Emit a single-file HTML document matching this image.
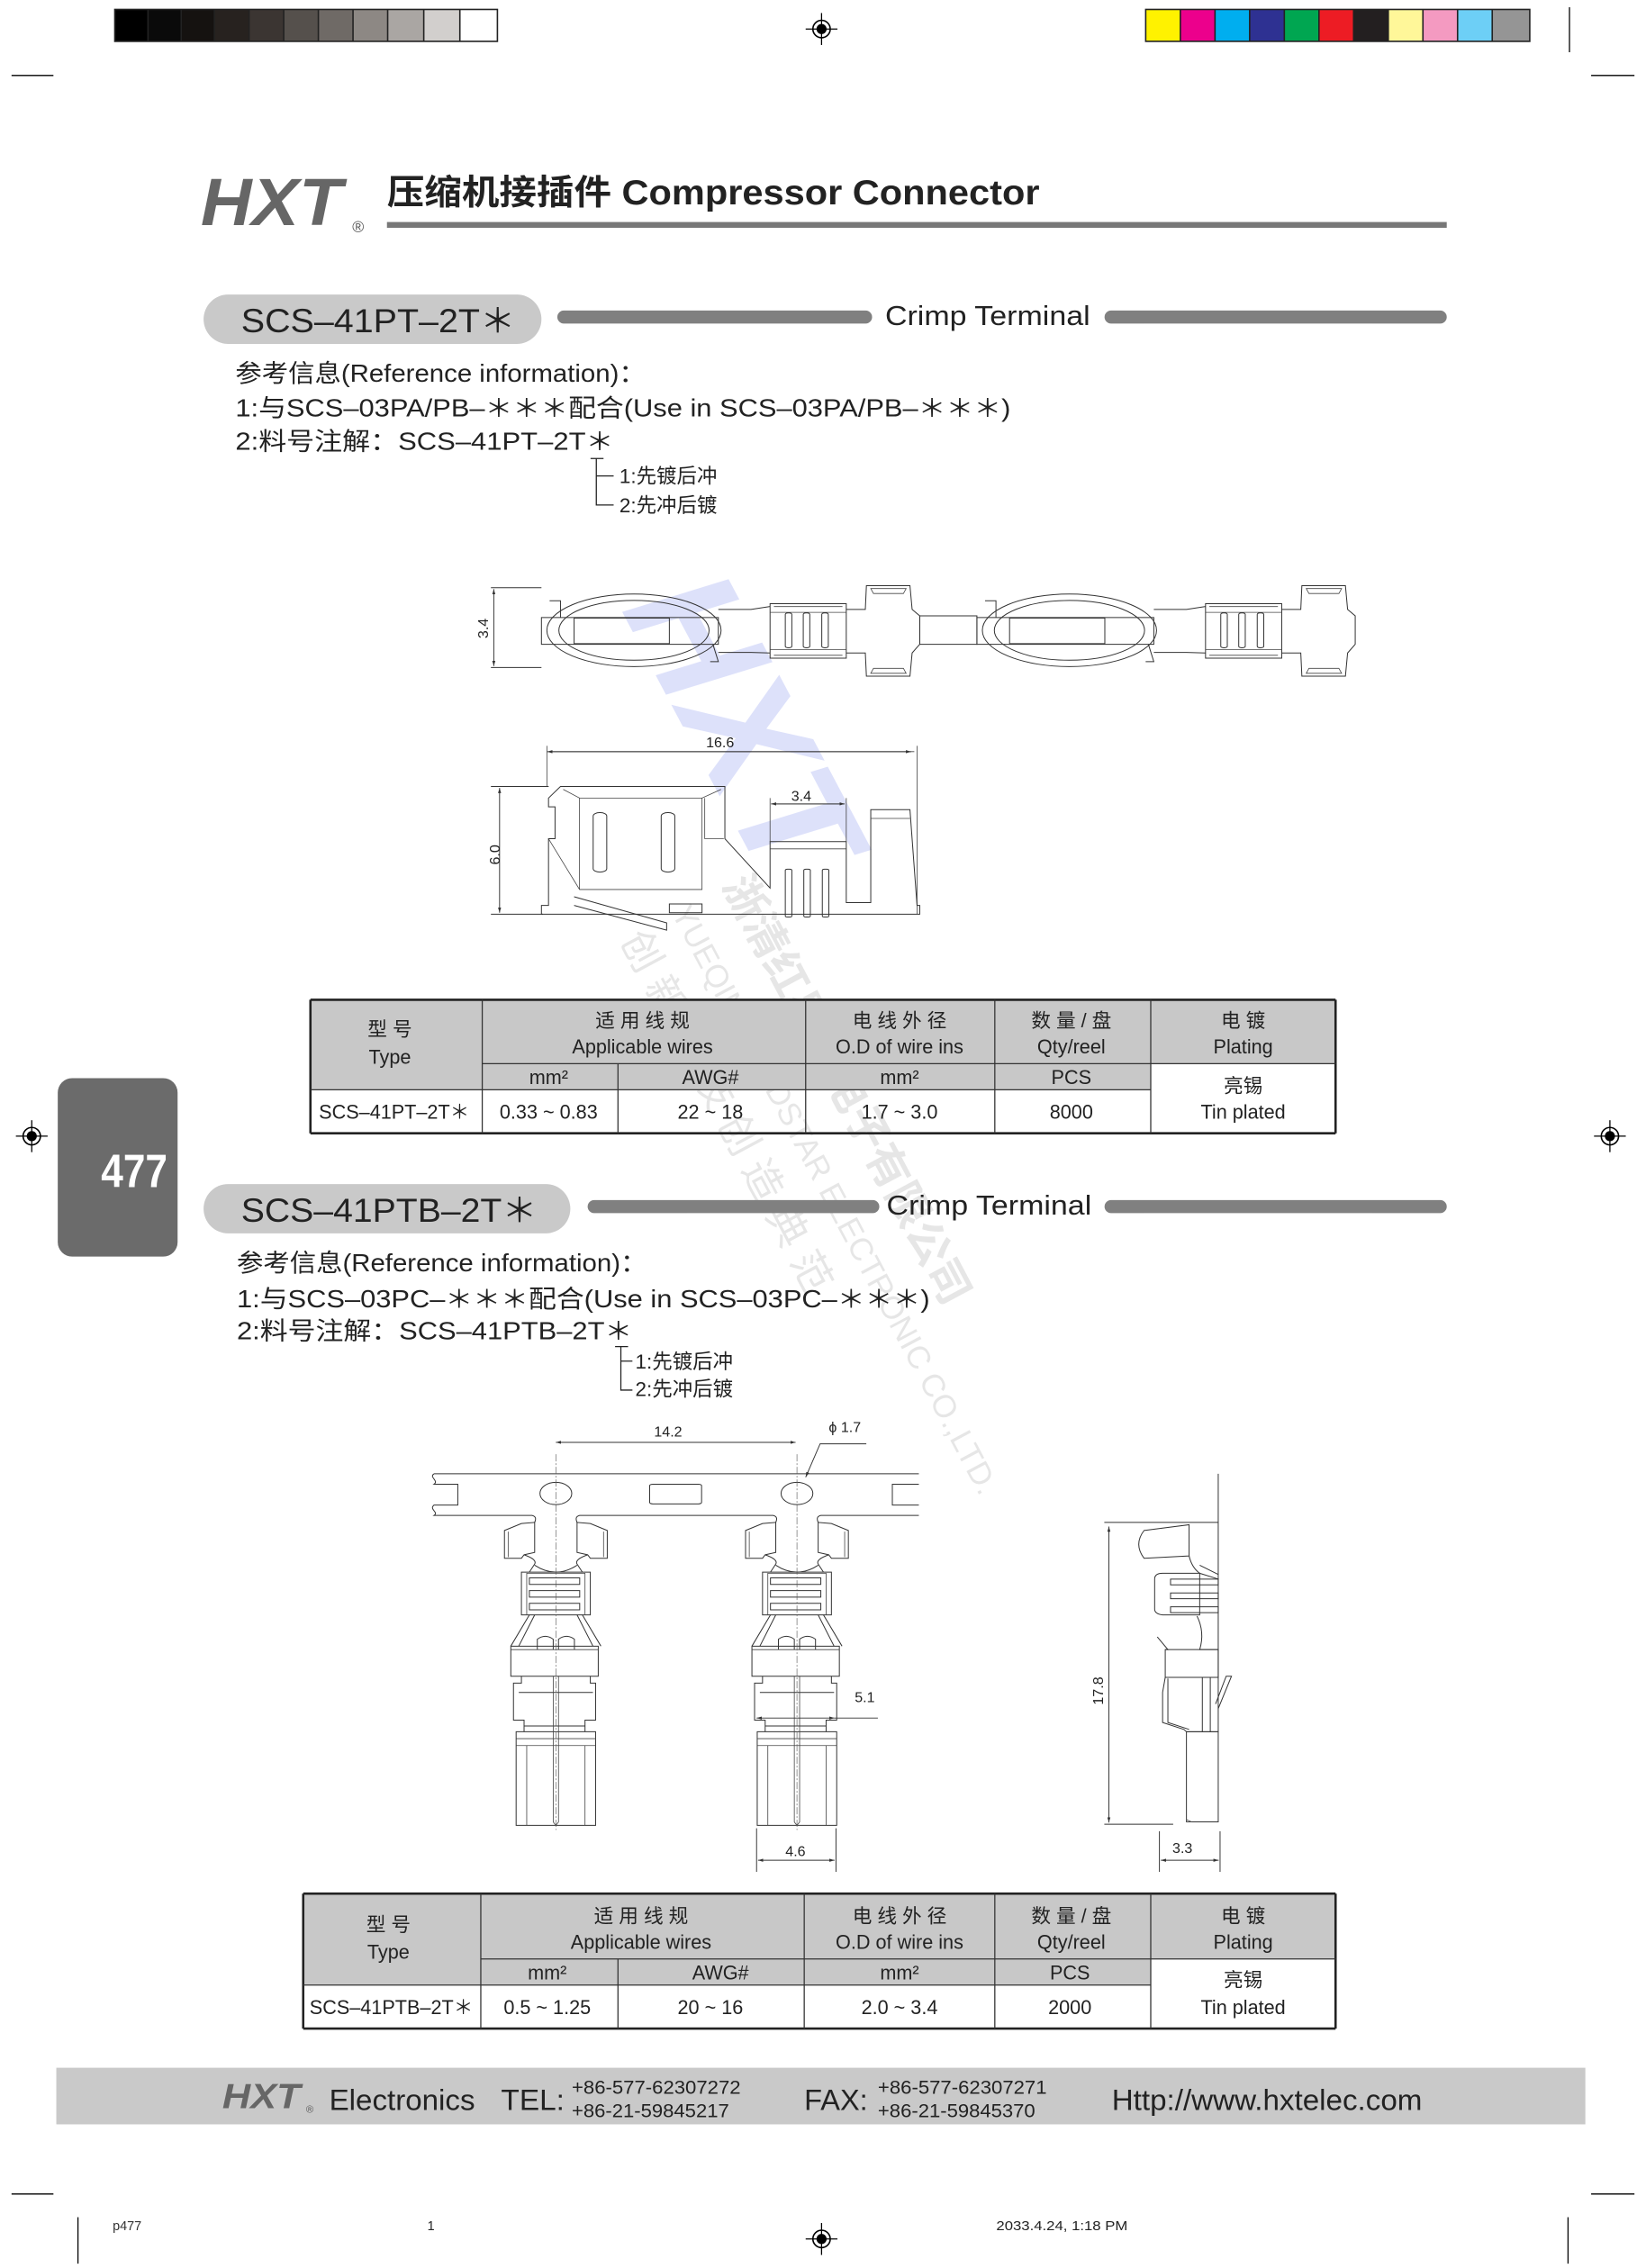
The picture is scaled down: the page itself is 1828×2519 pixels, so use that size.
<!DOCTYPE html>
<html><head><meta charset="utf-8"><style>
html,body{margin:0;padding:0;background:#fff;}
svg{display:block;}
text{font-family:"Liberation Sans","Noto Sans CJK SC",sans-serif;fill:#222;}
.d{fill:none;stroke:#333;stroke-width:1;vector-effect:non-scaling-stroke;}
.t{fill:none;stroke:#444;stroke-width:0.8;vector-effect:non-scaling-stroke;}
.dim{fill:none;stroke:#333;stroke-width:0.6;}
.cl{fill:none;stroke:#555;stroke-width:0.6;stroke-dasharray:8 2 2 2;vector-effect:non-scaling-stroke;}
</style></head><body>
<svg width="1828" height="2519" viewBox="0 0 1140 1563" preserveAspectRatio="none" xmlns="http://www.w3.org/2000/svg">
<defs>
<marker id="a" viewBox="0 0 10 10" refX="10" refY="5" markerWidth="6" markerHeight="6" orient="auto-start-reverse"><path d="M0,2 L10,5 L0,8 Z" fill="#333"/></marker>
<g id="reg"><circle r="6" fill="none" stroke="#000" stroke-width="1"/><circle r="3.5" fill="#000"/><line x1="-11" y1="0" x2="11" y2="0" stroke="#000" stroke-width="0.8"/><line x1="0" y1="-11" x2="0" y2="11" stroke="#000" stroke-width="0.8"/></g>
</defs>

<!-- top color bars -->
<rect x="79" y="6" width="266" height="23" fill="#222"/>
<g>
<rect x="80" y="7" width="22" height="21" fill="#000"/><rect x="103" y="7" width="22" height="21" fill="#0a0a0a"/><rect x="126" y="7" width="22" height="21" fill="#151210"/><rect x="149" y="7" width="23" height="21" fill="#27221f"/><rect x="173" y="7" width="23" height="21" fill="#3b3532"/><rect x="197" y="7" width="23" height="21" fill="#55504c"/><rect x="221" y="7" width="23" height="21" fill="#6f6a66"/><rect x="245" y="7" width="23" height="21" fill="#8d8884"/><rect x="269" y="7" width="24" height="21" fill="#aaa6a3"/><rect x="294" y="7" width="24" height="21" fill="#d2cfcd"/><rect x="319" y="7" width="25" height="21" fill="#fff"/>
</g>
<rect x="793" y="6" width="267" height="23" fill="#222"/>
<g>
<rect x="794" y="7" width="23" height="21" fill="#fff200"/><rect x="818" y="7" width="23" height="21" fill="#ec008c"/><rect x="842" y="7" width="23" height="21" fill="#00aeef"/><rect x="866" y="7" width="23" height="21" fill="#2e3192"/><rect x="890" y="7" width="23" height="21" fill="#00a651"/><rect x="914" y="7" width="23" height="21" fill="#ed1c24"/><rect x="938" y="7" width="23" height="21" fill="#231f20"/><rect x="962" y="7" width="23" height="21" fill="#fff799"/><rect x="986" y="7" width="23" height="21" fill="#f49ac1"/><rect x="1010" y="7" width="23" height="21" fill="#6dcff6"/><rect x="1034" y="7" width="25" height="21" fill="#959595"/>
</g>
<use href="#reg" x="569" y="20"/>
<use href="#reg" x="22" y="783"/>
<use href="#reg" x="1115" y="783"/>
<use href="#reg" x="569" y="1543"/>
<line x1="8" y1="52" x2="37" y2="52" stroke="#000" stroke-width="0.8"/>
<line x1="1102" y1="52" x2="1132" y2="52" stroke="#000" stroke-width="0.8"/>
<line x1="1087" y1="5" x2="1087" y2="36" stroke="#000" stroke-width="0.8"/>
<line x1="8" y1="1512" x2="37" y2="1512" stroke="#000" stroke-width="0.8"/>
<line x1="1102" y1="1512" x2="1132" y2="1512" stroke="#000" stroke-width="0.8"/>
<line x1="54" y1="1528" x2="54" y2="1560" stroke="#000" stroke-width="0.8"/>
<line x1="1086" y1="1528" x2="1086" y2="1560" stroke="#000" stroke-width="0.8"/>

<!-- header -->
<text x="139" y="155" font-size="46" font-weight="bold" font-style="italic" style="fill:#666" textLength="98" lengthAdjust="spacingAndGlyphs">HXT</text>
<text x="244" y="160" font-size="11" style="fill:#555">®</text>
<text x="268" y="141" font-size="24" font-weight="bold" textLength="452" lengthAdjust="spacingAndGlyphs">压缩机接插件 Compressor Connector</text>
<rect x="268" y="153" width="734" height="4" fill="#777"/>

<!-- section 1 -->
<rect x="141" y="203" width="234" height="34" rx="17" fill="#c9c9c9"/>
<text x="167" y="229" font-size="23" textLength="190" lengthAdjust="spacingAndGlyphs">SCS–41PT–2T＊</text>
<rect x="386" y="214" width="218" height="9" rx="4.5" fill="#808080"/>
<text x="613" y="224" font-size="19" textLength="142" lengthAdjust="spacingAndGlyphs">Crimp Terminal</text>
<rect x="765" y="214" width="237" height="9" rx="4.5" fill="#808080"/>
<text x="163" y="263" font-size="17" textLength="284" lengthAdjust="spacingAndGlyphs">参考信息(Reference information)：</text>
<text x="163" y="287" font-size="17" textLength="537" lengthAdjust="spacingAndGlyphs">1:与SCS–03PA/PB–＊＊＊配合(Use in SCS–03PA/PB–＊＊＊)</text>
<text x="163" y="310" font-size="17" textLength="262" lengthAdjust="spacingAndGlyphs">2:料号注解：SCS–41PT–2T＊</text>
<path d="M409,316 L418,316 M413,316 L413,348 L425,348 M413,328 L425,328" stroke="#222" fill="none" stroke-width="0.8"/>
<text x="429" y="333" font-size="14">1:先镀后冲</text>
<text x="429" y="353" font-size="14">2:先冲后镀</text>

<!-- watermark -->
<g opacity="0.18">
<text x="0" y="0" font-size="110" font-weight="bold" font-style="italic" style="fill:#4a5ee8" transform="translate(430,420) rotate(62)">HXT</text>
</g>
<g opacity="0.14" transform="translate(500,610) rotate(62)">
<text x="0" y="0" font-size="30" font-weight="bold" style="fill:#555">浙清红星亮电子有限公司</text>
<text x="0" y="40" font-size="22" style="fill:#555">YUEQING REDSTAR ELECTRONIC CO.,LTD.</text>
<text x="0" y="80" font-size="28" style="fill:#555">创 新 科 技 创 造 典 范</text>
</g>

<!-- drawing 1: strip -->
<g transform="matrix(0.377,0,0,0.2,361.8,390)">
<g id="u1">
<ellipse cx="205" cy="222" rx="160" ry="125" class="d"/>
<ellipse cx="205" cy="222" rx="138" ry="103" class="d"/>
<rect x="35" y="178" width="325" height="92" class="d" fill="#fff"/>
<rect x="95" y="180" width="175" height="88" class="d"/>
<path d="M50,120 L70,120 L70,178 M350,270 L360,330 L345,330" class="d"/>
<path d="M360,150 L420,150 L455,140 M360,298 L420,298 L455,300" class="d"/>
<rect x="455" y="130" width="140" height="188" class="d"/>
<path d="M455,160 L595,160 M455,288 L595,288 M462,140 L588,140 M462,308 L588,308" class="t"/>
<rect x="483" y="162" width="12" height="120" rx="5" class="d"/>
<rect x="516" y="162" width="12" height="120" rx="5" class="d"/>
<rect x="550" y="162" width="12" height="120" rx="5" class="d"/>
<path d="M595,150 L630,150 L632,68 L712,68 L716,150 L730,172 L730,270 L716,300 L712,380 L632,380 L630,300 L595,300" class="d"/>
<path d="M640,78 L705,78 L700,95 L645,95 Z M640,370 L705,370 L700,353 L645,353 Z" class="t"/>
</g>
<rect x="730" y="172" width="105" height="98" class="d"/>
<use href="#u1" x="800"/>
</g>
<line x1="340" y1="405" x2="375" y2="405" class="dim"/>
<line x1="340" y1="460" x2="375" y2="460" class="dim"/>
<line x1="342" y1="406" x2="342" y2="459" class="dim" marker-start="url(#a)" marker-end="url(#a)"/>
<text x="0" y="0" font-size="10" transform="translate(338,440) rotate(-90)">3.4</text>

<!-- drawing 1: side view -->
<g transform="matrix(0.377,0,0,0.2,361.8,390)">
<path d="M45,620 L45,760 M725,620 L725,1200" class="t"/>
<line x1="50" y1="640" x2="720" y2="640" class="t"/>
<path d="M48,830 L48,800 L70,760 L372,760 L372,940 L455,1110 L455,950 L595,950 L595,1160 L640,1160 L640,840 L712,840 L725,1170 L730,1170 L730,1200 L35,1200 L35,1170 L48,1170 L48,940 L60,940 L60,830 Z" class="d"/>
<path d="M75,770 L105,800 L330,800 L365,770 M105,800 L105,1115 L330,1115 L330,800 M335,800 L335,940 L370,940 M48,940 L105,1115 M640,870 L712,870 M455,975 L595,975" class="t"/>
<rect x="130" y="850" width="25" height="205" rx="12" class="d"/>
<rect x="255" y="850" width="25" height="205" rx="12" class="d"/>
<rect x="483" y="1045" width="12" height="165" rx="4" class="d"/>
<rect x="517" y="1045" width="12" height="165" rx="4" class="d"/>
<rect x="551" y="1045" width="12" height="165" rx="4" class="d"/>
<path d="M95,1140 L265,1230 L265,1255 L95,1170 M270,1165 L330,1165 L330,1195 L270,1195 Z" class="d"/>
<path d="M455,800 L455,950 M595,800 L595,950" class="t"/>
<line x1="460" y1="820" x2="590" y2="820" class="t"/>
</g>
<line x1="379" y1="518" x2="631" y2="518" class="dim" marker-start="url(#a)" marker-end="url(#a)"/>
<text x="489" y="515" font-size="10">16.6</text>
<line x1="534" y1="554" x2="585" y2="554" class="dim" marker-start="url(#a)" marker-end="url(#a)"/>
<text x="548" y="552" font-size="10">3.4</text>
<line x1="340" y1="542" x2="380" y2="542" class="dim"/>
<line x1="340" y1="630" x2="376" y2="630" class="dim"/>
<line x1="346" y1="543" x2="346" y2="629" class="dim" marker-start="url(#a)" marker-end="url(#a)"/>
<text x="0" y="0" font-size="10" transform="translate(346,596) rotate(-90)">6.0</text>

<!-- table 1 -->
<g font-size="13.5">
<rect x="215" y="689" width="710" height="62" fill="#c8c8c8"/>
<rect x="797" y="733" width="128" height="48" fill="#fff"/>
<g stroke="#222" stroke-width="1.6" fill="none"><line x1="215" y1="689" x2="925" y2="689"/><line x1="215" y1="781" x2="925" y2="781"/><line x1="215" y1="689" x2="215" y2="781"/><line x1="925" y1="689" x2="925" y2="781"/></g>
<g stroke="#333" stroke-width="0.8">
<line x1="334" y1="689" x2="334" y2="781"/><line x1="428" y1="733" x2="428" y2="781"/><line x1="558" y1="689" x2="558" y2="781"/><line x1="689" y1="689" x2="689" y2="781"/><line x1="797" y1="689" x2="797" y2="781"/>
<line x1="334" y1="733" x2="925" y2="733"/><line x1="215" y1="751" x2="797" y2="751"/>
</g>
<g text-anchor="middle">
<text x="270" y="714">型 号</text><text x="270" y="733">Type</text>
<text x="445" y="708">适 用 线 规</text><text x="445" y="726">Applicable wires</text>
<text x="623" y="708">电 线 外 径</text><text x="623" y="726">O.D of wire ins</text>
<text x="742" y="708">数 量 / 盘</text><text x="742" y="726">Qty/reel</text>
<text x="861" y="708">电 镀</text><text x="861" y="726">Plating</text>
<text x="380" y="747">mm²</text><text x="492" y="747">AWG#</text><text x="623" y="747">mm²</text><text x="742" y="747">PCS</text>
<text x="861" y="753">亮锡</text><text x="861" y="771">Tin plated</text>
<text x="273" y="771">SCS–41PT–2T＊</text><text x="380" y="771">0.33 ~ 0.83</text><text x="492" y="771">22 ~ 18</text><text x="623" y="771">1.7 ~ 3.0</text><text x="742" y="771">8000</text>
</g>
</g>

<!-- side tab -->
<rect x="40" y="743" width="83" height="123" rx="10" fill="#6b6b6b"/>
<text x="93" y="818" font-size="32" font-weight="bold" text-anchor="middle" style="fill:#fff" textLength="46" lengthAdjust="spacingAndGlyphs">477</text>

<!-- section 2 -->
<rect x="141" y="816" width="254" height="34" rx="17" fill="#c9c9c9"/>
<text x="167" y="842" font-size="23" textLength="205" lengthAdjust="spacingAndGlyphs">SCS–41PTB–2T＊</text>
<rect x="407" y="827" width="202" height="9" rx="4.5" fill="#808080"/>
<text x="614" y="837" font-size="19" textLength="142" lengthAdjust="spacingAndGlyphs">Crimp Terminal</text>
<rect x="765" y="827" width="237" height="9" rx="4.5" fill="#808080"/>
<text x="164" y="876" font-size="17" textLength="284" lengthAdjust="spacingAndGlyphs">参考信息(Reference information)：</text>
<text x="164" y="901" font-size="17" textLength="480" lengthAdjust="spacingAndGlyphs">1:与SCS–03PC–＊＊＊配合(Use in SCS–03PC–＊＊＊)</text>
<text x="164" y="923" font-size="17" textLength="274" lengthAdjust="spacingAndGlyphs">2:料号注解：SCS–41PTB–2T＊</text>
<path d="M426,928 L435,928 M430,928 L430,958 L438,958 M430,938 L438,938" stroke="#222" fill="none" stroke-width="0.8"/>
<text x="440" y="943" font-size="14">1:先镀后冲</text>
<text x="440" y="962" font-size="14">2:先冲后镀</text>

<!-- drawing 2 -->
<g transform="matrix(0.367,0,0,0.1594,291.4,986.2)">
<path d="M25,185 L940,185 M25,185 C15,200 35,215 25,230 L70,230 L70,320 L25,320 C15,340 35,350 25,365 L210,365 Q220,370 215,395 M295,395 Q290,370 300,365 L665,365 Q675,370 670,395 M750,395 Q745,370 755,365 L940,365 M940,320 L890,320 L890,230 L940,230" class="d"/>
<rect x="432" y="230" width="98" height="85" rx="6" class="d"/>
<g id="term">
<ellipse cx="255" cy="270" rx="30" ry="48" class="d"/>
<path d="M158,430 L190,400 L215,395 L215,525 L195,535 L190,550 L158,550 Z M352,430 L320,400 L295,395 L295,525 L315,535 L320,550 L352,550 Z" class="d"/>
<path d="M165,435 L165,545 M345,435 L345,545" class="t"/>
<path d="M195,535 Q220,555 215,575 L205,610 M315,535 Q290,555 295,575 L305,610 M215,580 Q255,640 295,580" class="d"/>
<rect x="190" y="610" width="130" height="185" class="d"/>
<rect x="200" y="615" width="110" height="180" class="t"/>
<rect x="205" y="635" width="95" height="28" class="d"/>
<rect x="205" y="690" width="95" height="28" class="d"/>
<rect x="205" y="745" width="95" height="28" class="d"/>
<path d="M205,795 L170,930 M305,795 L340,930 M215,795 L185,930 M295,795 L325,930" class="d"/>
<path d="M220,945 L220,900 Q235,875 250,900 L250,945 M260,945 L260,900 Q275,875 290,900 L290,945" class="d"/>
<rect x="170" y="930" width="165" height="130" class="d"/>
<line x1="170" y1="945" x2="335" y2="945" class="t"/>
<path d="M190,1060 L190,1090 L175,1090 L175,1250 L195,1250 L195,1300 M320,1060 L320,1090 L330,1090 L330,1250 L310,1250 L310,1300 M185,1130 L325,1130 M195,1275 L310,1275" class="d"/>
<rect x="180" y="1300" width="150" height="405" class="d"/>
<path d="M180,1330 L330,1330 M180,1360 L330,1360 M200,1360 L200,1705 M310,1360 L310,1705" class="t"/>
<path d="M250,1060 L250,1690 L255,1705 L260,1690 L260,1060" class="t"/>
<line x1="255" y1="100" x2="255" y2="1725" class="cl"/>
</g>
<use href="#term" x="455"/>
<!-- side view -->
<path d="M1505,185 L1505,1300 M1290,395 L1505,395 M1290,1700 L1420,1700" class="d"/>
<path d="M1365,430 L1450,405 L1450,540 L1365,550 Q1345,490 1365,430 Z" class="d"/>
<path d="M1450,540 Q1455,590 1470,615 L1505,640 M1470,580 L1505,620" class="d"/>
<path d="M1400,615 L1470,615 L1470,795 L1400,795 Q1385,790 1385,770 L1385,640 Q1385,615 1400,615 Z" class="d"/>
<rect x="1415" y="640" width="90" height="25" class="d"/>
<rect x="1415" y="700" width="90" height="25" class="d"/>
<rect x="1415" y="760" width="90" height="25" class="d"/>
<path d="M1465,800 Q1480,870 1470,945 L1505,945 M1390,890 L1410,945 L1405,945" class="d"/>
<rect x="1405" y="945" width="100" height="120" class="d"/>
<path d="M1405,1065 L1400,1130 L1400,1260 L1440,1290 L1445,1300 L1505,1300 M1410,1070 L1410,1260 L1450,1290 M1475,1065 L1475,1300 M1490,1065 L1490,1300" class="d"/>
<path d="M1505,1200 L1530,1060 L1520,1060 L1500,1180" class="d"/>
<rect x="1445" y="1300" width="60" height="390" class="d"/>
<path d="M1445,1680 L1455,1690 L1445,1690" class="t"/>
</g>
<!-- dims drawing 2 -->
<line x1="385" y1="994" x2="551" y2="994" class="dim" marker-start="url(#a)" marker-end="url(#a)"/>
<text x="453" y="990" font-size="10">14.2</text>
<text x="574" y="987" font-size="10">ϕ 1.7</text>
<path d="M558,1018 L568,995 L600,995" class="dim" marker-start="url(#a)"/>
<line x1="524" y1="1184" x2="578" y2="1184" class="dim" marker-start="url(#a)" marker-end="url(#a)"/>
<line x1="578" y1="1184" x2="608" y2="1184" class="dim"/>
<text x="592" y="1173" font-size="10">5.1</text>
<path d="M524,1260 L524,1290 M579,1260 L579,1290" class="dim"/>
<line x1="525" y1="1282" x2="578" y2="1282" class="dim" marker-start="url(#a)" marker-end="url(#a)"/>
<text x="544" y="1279" font-size="10">4.6</text>
<line x1="768" y1="1052" x2="768" y2="1256" class="dim" marker-start="url(#a)" marker-end="url(#a)"/>
<text x="0" y="0" font-size="10" transform="translate(764,1175) rotate(-90)">17.8</text>
<path d="M803,1262 L803,1290 M845,1262 L845,1290" class="dim"/>
<line x1="804" y1="1282" x2="844" y2="1282" class="dim" marker-start="url(#a)" marker-end="url(#a)"/>
<text x="812" y="1277" font-size="10">3.3</text>

<!-- table 2 -->
<g font-size="13.5">
<rect x="210" y="1305" width="715" height="63" fill="#c8c8c8"/>
<rect x="797" y="1350" width="128" height="48" fill="#fff"/>
<g stroke="#222" stroke-width="1.6" fill="none"><line x1="210" y1="1305" x2="925" y2="1305"/><line x1="210" y1="1398" x2="925" y2="1398"/><line x1="210" y1="1305" x2="210" y2="1398"/><line x1="925" y1="1305" x2="925" y2="1398"/></g>
<g stroke="#333" stroke-width="0.8">
<line x1="333" y1="1305" x2="333" y2="1398"/><line x1="428" y1="1350" x2="428" y2="1398"/><line x1="557" y1="1305" x2="557" y2="1398"/><line x1="689" y1="1305" x2="689" y2="1398"/><line x1="797" y1="1305" x2="797" y2="1398"/>
<line x1="333" y1="1350" x2="925" y2="1350"/><line x1="210" y1="1368" x2="797" y2="1368"/>
</g>
<g text-anchor="middle">
<text x="269" y="1331">型 号</text><text x="269" y="1350">Type</text>
<text x="444" y="1325">适 用 线 规</text><text x="444" y="1343">Applicable wires</text>
<text x="623" y="1325">电 线 外 径</text><text x="623" y="1343">O.D of wire ins</text>
<text x="742" y="1325">数 量 / 盘</text><text x="742" y="1343">Qty/reel</text>
<text x="861" y="1325">电 镀</text><text x="861" y="1343">Plating</text>
<text x="379" y="1364">mm²</text><text x="499" y="1364">AWG#</text><text x="623" y="1364">mm²</text><text x="741" y="1364">PCS</text>
<text x="861" y="1369">亮锡</text><text x="861" y="1388">Tin plated</text>
<text x="271" y="1388">SCS–41PTB–2T＊</text><text x="379" y="1388">0.5 ~ 1.25</text><text x="492" y="1388">20 ~ 16</text><text x="623" y="1388">2.0 ~ 3.4</text><text x="741" y="1388">2000</text>
</g>
</g>

<!-- footer -->
<rect x="39" y="1425" width="1059" height="39" fill="#c9c9c9"/>
<text x="154" y="1453" font-size="24" font-weight="bold" font-style="italic" style="fill:#666" textLength="54" lengthAdjust="spacingAndGlyphs">HXT</text>
<text x="212" y="1456" font-size="7" style="fill:#555">®</text>
<text x="228" y="1454" font-size="20" textLength="101" lengthAdjust="spacingAndGlyphs">Electronics</text>
<text x="347" y="1454" font-size="20" textLength="44" lengthAdjust="spacingAndGlyphs">TEL:</text>
<text x="396" y="1443" font-size="13" textLength="117" lengthAdjust="spacingAndGlyphs">+86-577-62307272</text>
<text x="396" y="1459" font-size="13" textLength="109" lengthAdjust="spacingAndGlyphs">+86-21-59845217</text>
<text x="557" y="1454" font-size="20" textLength="44" lengthAdjust="spacingAndGlyphs">FAX:</text>
<text x="608" y="1443" font-size="13" textLength="117" lengthAdjust="spacingAndGlyphs">+86-577-62307271</text>
<text x="608" y="1459" font-size="13" textLength="109" lengthAdjust="spacingAndGlyphs">+86-21-59845370</text>
<text x="770" y="1454" font-size="20" textLength="215" lengthAdjust="spacingAndGlyphs">Http://www.hxtelec.com</text>

<text x="78" y="1537" font-size="9" style="fill:#333">p477</text>
<text x="296" y="1537" font-size="9">1</text>
<text x="690" y="1537" font-size="9" textLength="91" lengthAdjust="spacingAndGlyphs">2033.4.24, 1:18 PM</text>
</svg>
</body></html>
